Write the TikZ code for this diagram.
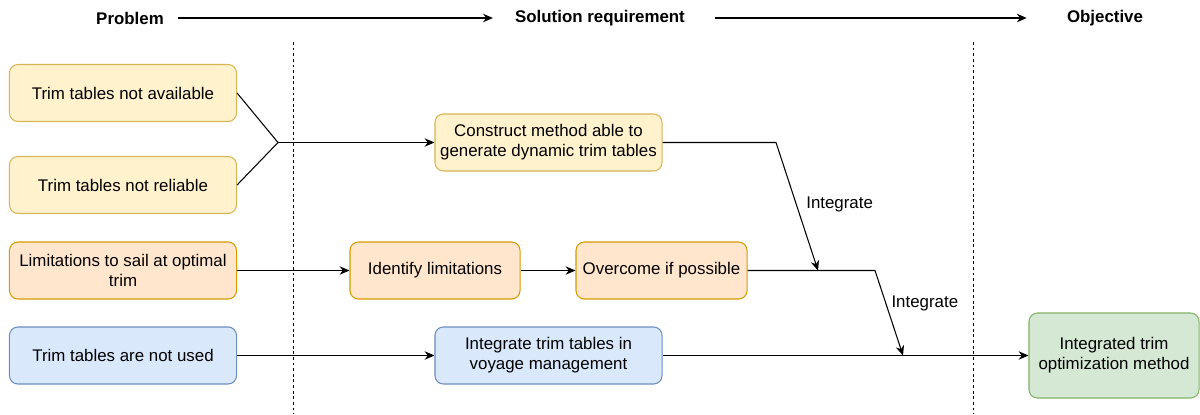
\documentclass[tikz,border=0pt]{standalone}
\usepackage{fontspec}
\setmainfont{Liberation Sans}
\usetikzlibrary{arrows.meta}

\definecolor{yelfill}{HTML}{FFF2CC}
\definecolor{yeldraw}{HTML}{D6B656}
\definecolor{orafill}{HTML}{FFE6CC}
\definecolor{oradraw}{HTML}{D79B00}
\definecolor{blufill}{HTML}{DAE8FC}
\definecolor{bludraw}{HTML}{6C8EBF}
\definecolor{grnfill}{HTML}{D5E8D4}
\definecolor{grndraw}{HTML}{82B366}

\tikzset{
  box/.style={draw, rounded corners=6pt, line width=0.75pt, align=center,
    minimum width=5.675cm, minimum height=1.425cm, inner sep=2pt,
    font=\fontsize{12}{14.2}\selectfont},
  yelbox/.style={box, fill=yelfill, draw=yeldraw},
  orabox/.style={box, fill=orafill, draw=oradraw},
  blubox/.style={box, fill=blufill, draw=bludraw},
  grnbox/.style={box, fill=grnfill, draw=grndraw},
  head/.style={font=\bfseries\fontsize{12}{14}\selectfont, inner sep=0pt},
  link/.style={line width=0.75pt},
  flow/.style={link, -{Stealth[length=7pt, width=6pt]}},
  tag/.style={font=\fontsize{12}{14}\selectfont, inner sep=0pt},
  lane/.style={line width=0.6pt, dash pattern=on 2pt off 2pt},
}

\begin{document}
\begin{tikzpicture}[x=0.025cm, y=-0.025cm]
  \useasboundingbox (0,0) rectangle (1200,414);

  % column headings
  \node[head] (prob) at (130,18) {Problem};
  \node[head] (sol) at (600,18) {Solution requirement};
  \node[head] (obj) at (1105,18) {Objective};
  \draw[flow, shorten <=0.35cm, shorten >=0.55cm] (prob) -- (sol);
  \draw[flow, shorten <=0.75cm, shorten >=1cm] (sol) -- (obj);

  \draw[lane] (293,42) -- (293,414);
  \draw[lane] (973,42) -- (973,414);

  % problems
  \node[yelbox] (avail) at (123,93) {Trim tables not available};
  \node[yelbox] (reliab) at (123,185) {Trim tables not reliable};
  \node[orabox] (limit) at (123,270.5) {Limitations to sail at optimal\\trim};
  \node[blubox] (notused) at (123,355.5) {Trim tables are not used};

  % solution requirements
  \node[yelbox] (construct) at (548.5,142.5) {Construct method able to\\generate dynamic trim tables};
  \node[orabox, minimum width=4.25cm] (identify) at (435,270.5) {Identify limitations};
  \node[orabox, minimum width=4.275cm] (overcome) at (661.5,270.5) {Overcome if possible};
  \node[blubox] (intvoy) at (548.5,355.5) {Integrate trim tables in\\voyage management};

  % objective
  \node[grnbox, minimum width=4.25cm, minimum height=2.125cm] (result) at (1114,355.5) {Integrated trim\\optimization method};

  \coordinate (join) at (278,142.5);
  \coordinate (bend1) at (776,142.5);
  \coordinate (hit1) at (818,270.5);
  \coordinate (bend2) at (875,270.5);
  \coordinate (hit2) at (903,355.5);

  \draw[link] (avail.east) -- (join);
  \draw[link] (reliab.east) -- (join);
  \draw[flow] (join) -- (construct);
  \draw[flow] (construct.east) -- (bend1) -- (hit1)
    node[tag, midway, anchor=west, xshift=0.22cm, yshift=0.05cm] {Integrate};

  \draw[flow] (limit) -- (identify);
  \draw[flow] (identify) -- (overcome);
  \draw[flow] (overcome.east) -- (bend2) -- (hit2)
    node[tag, midway, anchor=west, xshift=0.05cm, yshift=0.25cm] {Integrate};

  \draw[flow] (notused) -- (intvoy);
  \draw[flow] (intvoy) -- (result);
\end{tikzpicture}
\end{document}
